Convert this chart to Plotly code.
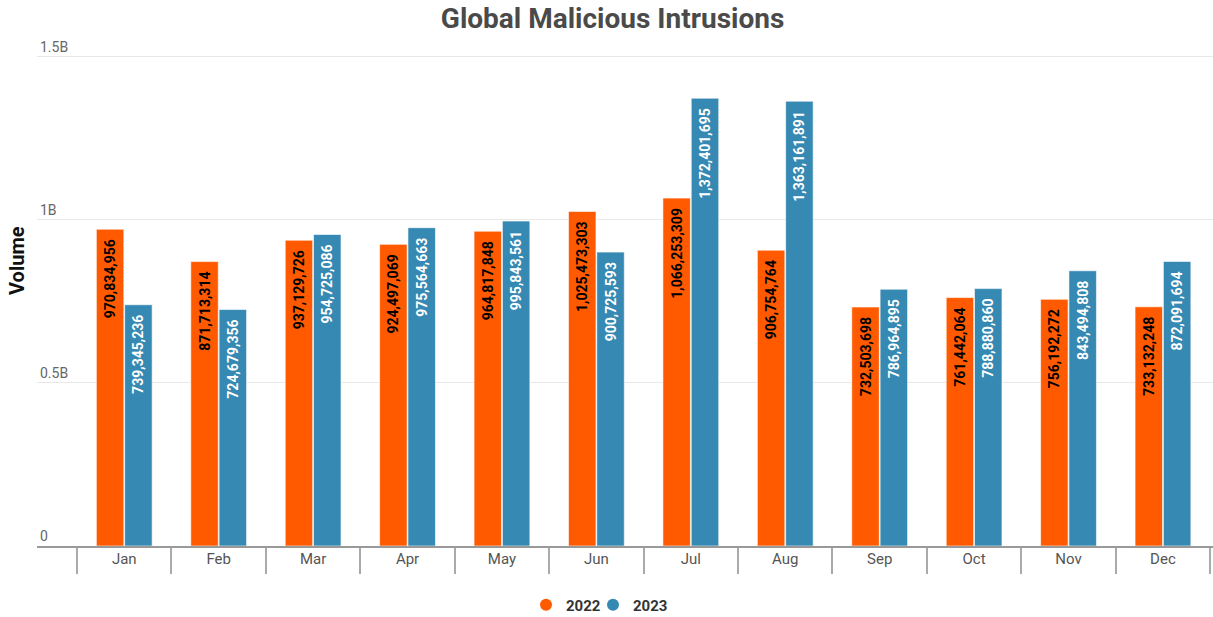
import plotly.graph_objects as go

months = ["Jan", "Feb", "Mar", "Apr", "May", "Jun", "Jul", "Aug", "Sep", "Oct", "Nov", "Dec"]
vol_2022 = [970834956, 871713314, 937129726, 924497069, 964817848, 1025473303,
            1066253309, 906754764, 732503698, 761442064, 756192272, 733132248]
vol_2023 = [739345236, 724679356, 954725086, 975564663, 995843561, 900725593,
            1372401695, 1363161891, 786964895, 788880860, 843494808, 872091694]
tick_vals = [0, 500_000_000, 1_000_000_000, 1_500_000_000]
tick_text = ["0", "0.5B", "1B", "1.5B"]

ORANGE = "#FF5A00"
BLUE = "#3589B2"
FONT = "Roboto"

fig = go.Figure()
for name, vals, col, tcol in [("2022", vol_2022, ORANGE, "black"), ("2023", vol_2023, BLUE, "white")]:
    fig.add_trace(go.Bar(
        name=name, x=months, y=vals, marker_color=col, showlegend=False,
        marker_line=dict(color="rgba(255,255,255,0.6)", width=1),
        texttemplate="%{y:,}\u00a0\u00a0", textposition="inside", insidetextanchor="end",
        textangle=-90, insidetextfont=dict(color=tcol, size=14, family=FONT, weight="bold"),
        hoverinfo="x+y",
    ))
# legend entries with circular markers
for name, col in [("2022", ORANGE), ("2023", BLUE)]:
    fig.add_trace(go.Scatter(
        name=name, x=[None], y=[None], mode="markers",
        marker=dict(symbol="circle", size=15, color=col), showlegend=True,
    ))
# invisible spacer entry so the last label is not clipped
fig.add_trace(go.Scatter(
    name="\u00a0", x=[None], y=[None], mode="markers", hoverinfo="skip",
    marker=dict(size=1, color="rgba(0,0,0,0)"), showlegend=True,
))

fig.update_layout(
    width=1213, height=617,
    paper_bgcolor="white", plot_bgcolor="white",
    margin=dict(l=37, r=0, t=37, b=71, autoexpand=False),
    barmode="group", bargap=0.4, bargroupgap=0.03,
    font=dict(family=FONT, color="#555"),
    title=dict(text="<b>Global Malicious Intrusions</b>", x=0.505, xanchor="center",
               y=1 - 18 / 617, yanchor="middle",
               font=dict(size=28, color="#4a4a4a", family=FONT)),
    legend=dict(orientation="h", x=(548 - 22 - 37) / 1176, xanchor="left", y=-0.116,
                yanchor="middle",
                font=dict(size=15, color="#333", family=FONT, weight="bold"),
                itemsizing="constant", traceorder="normal", itemwidth=30,
                entrywidth=22, entrywidthmode="pixels"),
)
fig.update_xaxes(
    range=[-0.924, 11.53], showline=True, linecolor="#999", linewidth=2,
    tickson="boundaries", ticks="outside", ticklen=26, tickcolor="#aaa", tickwidth=1.5,
    ticklabelstandoff=-2,
    tickfont=dict(size=15, color="#555", family=FONT), showgrid=False,
)
fig.update_yaxes(
    range=[0, 1.56e9], tickvals=tick_vals, ticktext=tick_text,
    ticklabelposition="inside top", tickfont=dict(size=14, color="#666", family=FONT),
    showgrid=True, gridcolor="#e8e8e8", gridwidth=1, zeroline=False,
)
fig.add_annotation(text="<b>Volume</b>", xref="paper", yref="paper", x=-0.017,
                   y=(546 - 261) / 509, xanchor="center", yanchor="middle", textangle=-90,
                   showarrow=False, font=dict(size=20, color="#111", family=FONT))

fig.write_html("out.html")
